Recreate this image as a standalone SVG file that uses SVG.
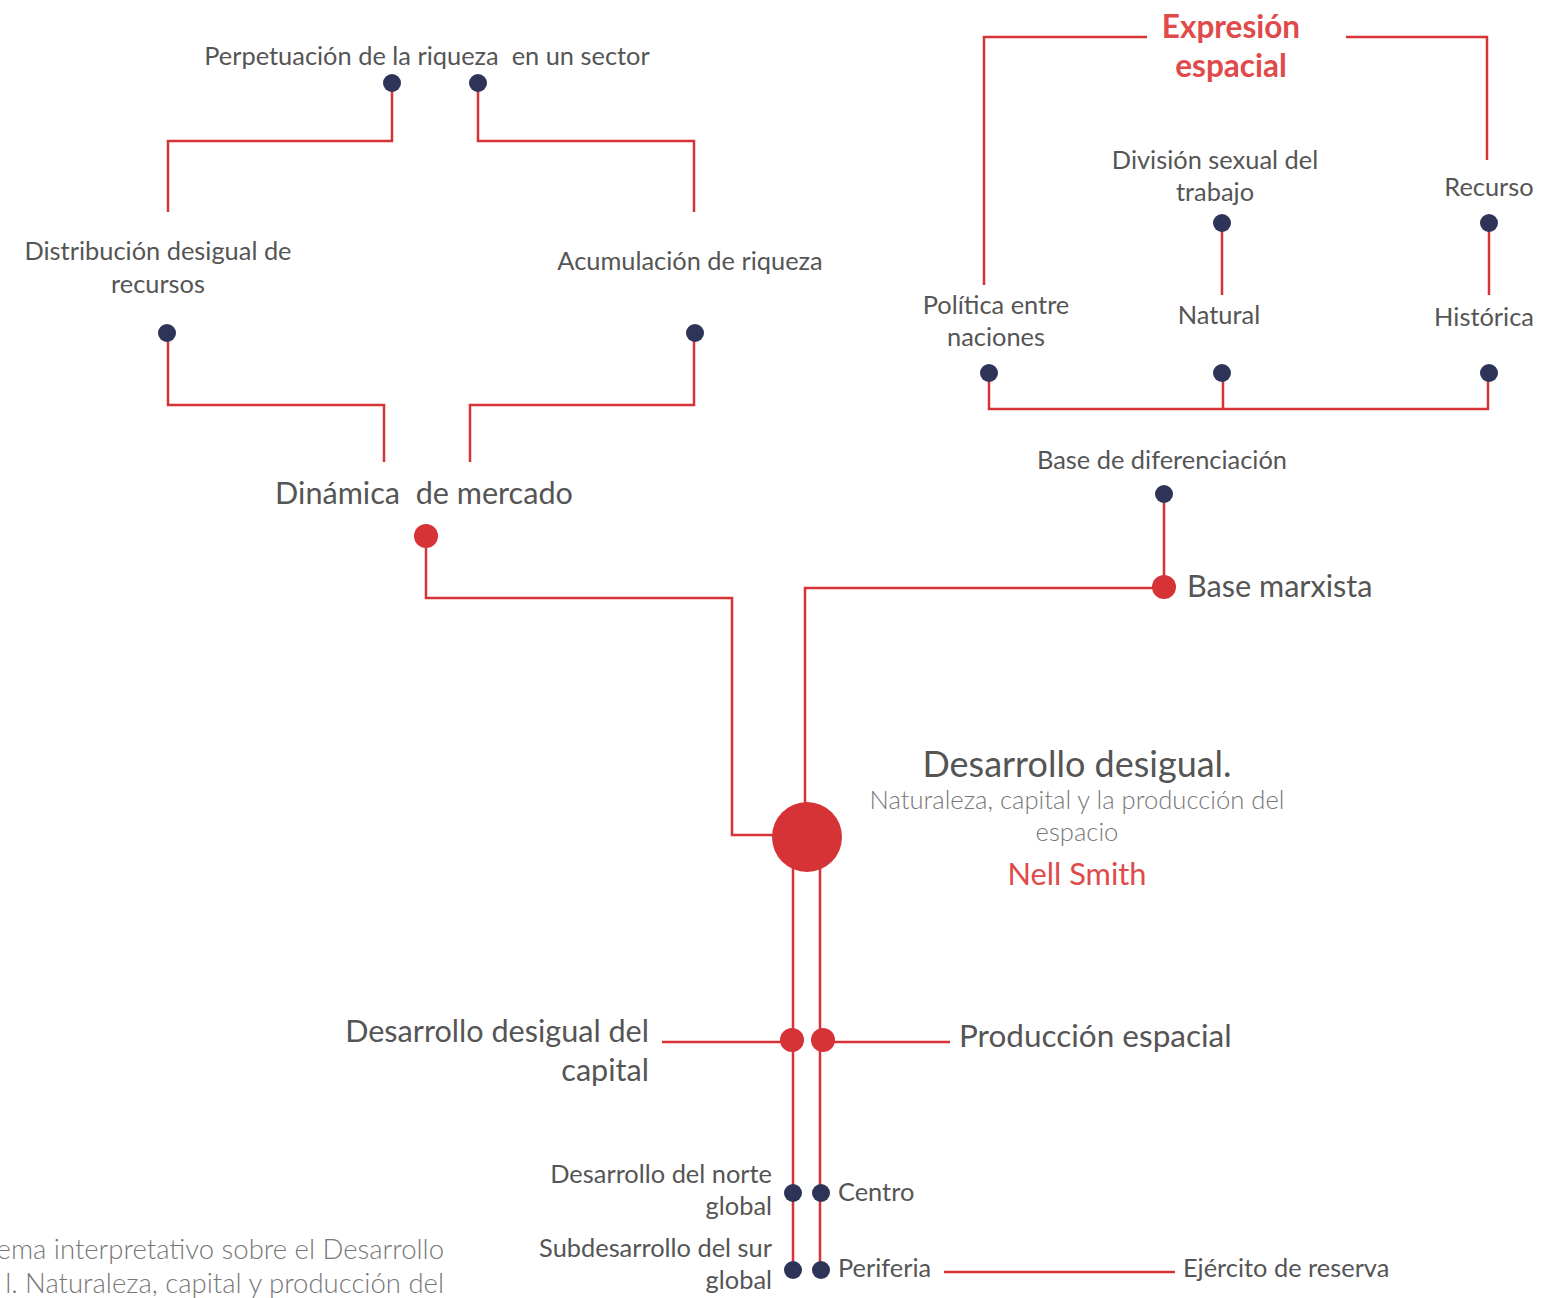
<svg xmlns="http://www.w3.org/2000/svg" width="1546" height="1298" viewBox="0 0 1546 1298">
  <style>
    text { font-family: Lato, "Open Sans", sans-serif; fill: #555; white-space: pre; }
    .s { font-size: 25.4px; }
    .m { font-size: 30.6px; }
    .c { text-anchor: middle; }
    .e { text-anchor: end; }
    .lt { font-weight: 300; fill: #777; }
    .red { fill: #e04a4a; }
    .ln { fill: none; stroke: #d63336; stroke-width: 2.5; }
    .dn { fill: #2e3358; }
    .dr { fill: #d63336; }
  </style>

  <!-- connectors -->
  <g id="connectors" class="ln">
    <!-- Dinámica de mercado to the centre -->
    <polyline points="426,536 426,598 732,598 732,835 775,835"/>
    <!-- centre to Base marxista -->
    <polyline points="805,805 805,588 1164,588"/>
    <line x1="1164" y1="494" x2="1164" y2="587"/>
    <!-- upper left tree -->
    <polyline points="384,462 384,405 168,405 168,333"/>
    <polyline points="470,462 470,405 694,405 694,333"/>
    <polyline points="168,212 168,141 392,141 392,83"/>
    <polyline points="694,212 694,141 478,141 478,83"/>
    <!-- Expresión espacial bracket -->
    <polyline points="1147,37 984,37 984,285"/>
    <polyline points="1346,37 1487,37 1487,160"/>
    <line x1="1222" y1="223" x2="1222" y2="295"/>
    <line x1="1489" y1="223" x2="1489" y2="295"/>
    <polyline points="989,373 989,409 1488,409 1488,373"/>
    <line x1="1223" y1="373" x2="1223" y2="409"/>
    <!-- stems below the centre -->
    <line x1="793" y1="865" x2="793" y2="1270"/>
    <line x1="820" y1="865" x2="820" y2="1270"/>
    <line x1="662" y1="1042" x2="792" y2="1042"/>
    <line x1="823" y1="1042" x2="950" y2="1042"/>
    <line x1="944" y1="1272" x2="1175" y2="1272"/>
  </g>

  <!-- centre node -->
  <g id="center">
    <circle class="dr" cx="807" cy="837" r="35"/>
    <text x="1077" y="777" class="c" style="font-size:36px">Desarrollo desigual.</text>
    <text x="1077" y="809" class="c lt" style="font-size:25.6px">Naturaleza, capital y la producción del</text>
    <text x="1077" y="841" class="c lt" style="font-size:25.6px">espacio</text>
    <text x="1077" y="885" class="c red" style="font-size:30.8px">Nell Smith</text>
  </g>

  <g id="dinamica">
    <circle class="dr" cx="426" cy="536" r="12"/>
    <text x="424" y="504" class="c m">Dinámica  de mercado</text>
  </g>
  <g id="distribucion">
    <circle class="dn" cx="167" cy="333" r="9"/>
    <text x="158" y="260" class="c s">Distribución desigual de</text>
    <text x="158" y="293" class="c s">recursos</text>
  </g>
  <g id="acumulacion">
    <circle class="dn" cx="695" cy="333" r="9"/>
    <text x="690" y="270" class="c s">Acumulación de riqueza</text>
  </g>
  <g id="perpetuacion">
    <circle class="dn" cx="392" cy="83" r="9"/>
    <circle class="dn" cx="478" cy="83" r="9"/>
    <text x="427" y="65" class="c s">Perpetuación de la riqueza  en un sector</text>
  </g>

  <g id="base-marxista">
    <circle class="dr" cx="1164" cy="587" r="12"/>
    <text x="1187" y="597" class="m">Base marxista</text>
  </g>
  <g id="base-diferenciacion">
    <circle class="dn" cx="1164" cy="494" r="9"/>
    <text x="1162" y="469" class="c s">Base de diferenciación</text>
  </g>

  <g id="expresion-espacial">
    <text x="1231" y="38" class="c red" style="font-size:31.5px;font-weight:700">Expresión</text>
    <text x="1231" y="77" class="c red" style="font-size:31.5px;font-weight:700">espacial</text>
  </g>
  <g id="politica">
    <circle class="dn" cx="989" cy="373" r="9"/>
    <text x="996" y="314" class="c s">Política entre</text>
    <text x="996" y="346" class="c s">naciones</text>
  </g>
  <g id="natural">
    <circle class="dn" cx="1222" cy="373" r="9"/>
    <text x="1219" y="324" class="c s">Natural</text>
  </g>
  <g id="historica">
    <circle class="dn" cx="1489" cy="373" r="9"/>
    <text x="1484" y="326" class="c s">Histórica</text>
  </g>
  <g id="division">
    <circle class="dn" cx="1222" cy="223" r="9"/>
    <text x="1215" y="169" class="c s">División sexual del</text>
    <text x="1215" y="201" class="c s">trabajo</text>
  </g>
  <g id="recurso">
    <circle class="dn" cx="1489" cy="223" r="9"/>
    <text x="1489" y="196" class="c s">Recurso</text>
  </g>

  <g id="desarrollo-capital">
    <circle class="dr" cx="792" cy="1040" r="12"/>
    <text x="649" y="1042" class="e m">Desarrollo desigual del</text>
    <text x="649" y="1081" class="e m">capital</text>
  </g>
  <g id="produccion-espacial">
    <circle class="dr" cx="823" cy="1040" r="12"/>
    <text x="959" y="1047" class="m" style="font-size:31.5px">Producción espacial</text>
  </g>
  <g id="norte">
    <circle class="dn" cx="793" cy="1193" r="9"/>
    <text x="772" y="1183" class="e s">Desarrollo del norte</text>
    <text x="772" y="1215" class="e s">global</text>
  </g>
  <g id="sur">
    <circle class="dn" cx="793" cy="1270" r="9"/>
    <text x="772" y="1257" class="e s">Subdesarrollo del sur</text>
    <text x="772" y="1289" class="e s">global</text>
  </g>
  <g id="centro">
    <circle class="dn" cx="821" cy="1193" r="9"/>
    <text x="838" y="1201" class="s">Centro</text>
  </g>
  <g id="periferia">
    <circle class="dn" cx="821" cy="1270" r="9"/>
    <text x="838" y="1277" class="s">Periferia</text>
  </g>
  <g id="ejercito">
    <text x="1183" y="1277" class="s">Ejército de reserva</text>
  </g>

  <!-- caption, running off the left edge -->
  <g id="caption">
    <text x="444" y="1259" class="e lt" style="font-size:27.5px">ema interpretativo sobre el Desarrollo</text>
    <text x="444" y="1293" class="e lt" style="font-size:27.5px">l. Naturaleza, capital y producción del</text>
  </g>
</svg>
